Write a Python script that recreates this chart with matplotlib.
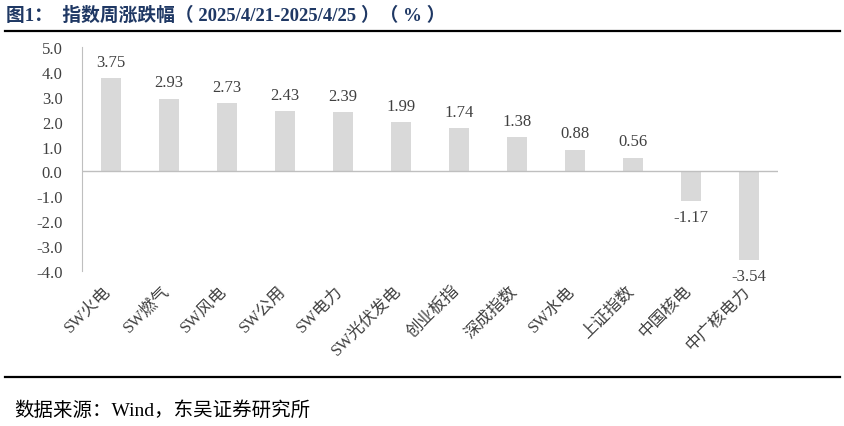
import matplotlib
matplotlib.use("Agg")
import matplotlib.pyplot as plt
from matplotlib.lines import Line2D
import matplotlib.transforms as mtransforms

plt.rcParams['font.family'] = ['Liberation Serif', 'Noto Sans CJK SC']

categories = ["SW火电", "SW燃气", "SW风电", "SW公用", "SW电力", "SW光伏发电",
              "创业板指", "深成指数", "SW水电", "上证指数", "中国核电", "中广核电力"]
values = [3.75, 2.93, 2.73, 2.43, 2.39, 1.99, 1.74, 1.38, 0.88, 0.56, -1.17, -3.54]
yticks = [5.0, 4.0, 3.0, 2.0, 1.0, 0.0, -1.0, -2.0, -3.0, -4.0]

W, H = 845, 427
fig = plt.figure(figsize=(W/100, H/100), dpi=100)

def fx(x): return x / W
def fy(y): return 1 - y / H

ax = fig.add_axes([fx(82), fy(272), fx(778) - fx(82), fy(48) - fy(272)])
x = list(range(len(categories)))
ax.bar(x, values, width=0.33, color="#d9d9d9", zorder=2)
ax.set_xlim(-0.5, len(categories) - 0.5)
ax.set_ylim(-4.0, 5.0)
ax.set_yticks(yticks)
ax.set_yticklabels([f"{v:.1f}" for v in yticks], fontsize=12, color="#404040")
ax.tick_params(axis='y', length=0, pad=14)
ax.set_xticks(x)
ax.set_xticklabels(categories, rotation=45, ha='right', rotation_mode='anchor',
                   fontsize=12, color="#404040", fontweight='light')
ax.tick_params(axis='x', length=0, pad=8)
offset = mtransforms.ScaledTranslation(-8/100, 0, fig.dpi_scale_trans)
for lab in ax.get_xticklabels():
    lab.set_transform(lab.get_transform() + offset)
for s in ['top', 'right', 'bottom']:
    ax.spines[s].set_visible(False)
ax.spines['left'].set_color("#bfbfbf")
ax.axhline(0, color="#bfbfbf", lw=1, zorder=3)

for xi, v in zip(x, values):
    if v >= 0:
        ax.annotate(f"{v:.2f}", (xi, v), xytext=(0, 6), textcoords='offset points',
                    ha='center', va='bottom', fontsize=12, color="#404040")
    else:
        ax.annotate(f"{v:.2f}", (xi, v), xytext=(0, -6), textcoords='offset points',
                    ha='center', va='top', fontsize=12, color="#404040")

fig.text(fx(6), fy(16), "图1：  指数周涨跌幅（ 2025/4/21-2025/4/25 ）（ % ）", fontsize=13.5,
         fontweight='bold', color="#1f3864", va='center', ha='left')
fig.add_artist(Line2D([fx(5), fx(840)], [fy(32), fy(32)], color="black", lw=1.6))
fig.add_artist(Line2D([fx(5), fx(840)], [fy(378), fy(378)], color="black", lw=1.6))
fig.text(fx(14), fy(411), "数据来源：Wind，东吴证券研究所", fontsize=14, color="black",
         va='center', ha='left', fontweight='light')

fig.savefig("out.png", dpi=100)
